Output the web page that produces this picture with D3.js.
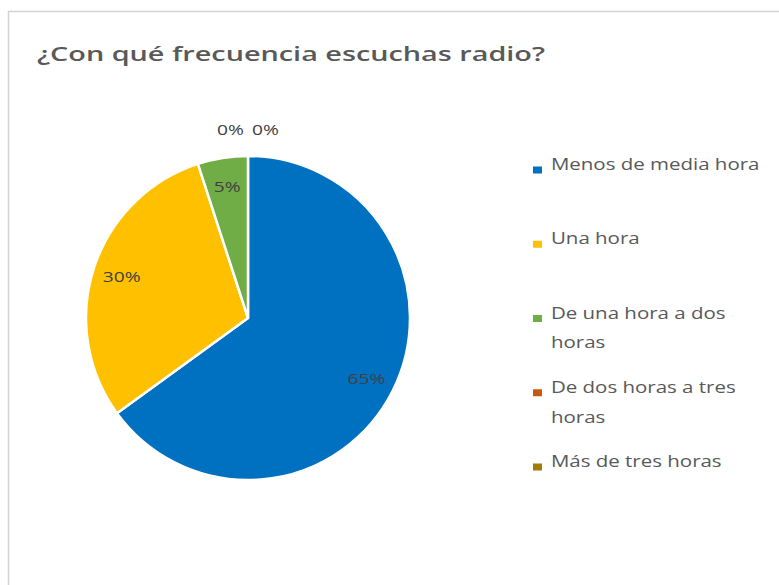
<!DOCTYPE html>
<html>
<head>
<meta charset="utf-8">
<script src="https://cdn.jsdelivr.net/npm/d3@7"></script>
<style>
  body { margin: 0; background: #ffffff; }
  svg { display: block; font-family: 'Open Sans', sans-serif; }
</style>
</head>
<body>
<div id="chart"></div>
<script>
var categories = ['Menos de media hora', 'Una hora', 'De una hora a dos horas',
  'De dos horas a tres horas', 'Más de tres horas'];
var values = [65, 30, 5, 0, 0];
var colors = ['#0070c0', '#ffc000', '#70ad47', '#c55a11', '#a07c00'];
var title = '¿Con qué frecuencia escuchas radio?';

var width = 779,
    height = 585,
    cx = 248,
    cy = 318,
    radius = 162,
    stretch = 1.28;

var data = categories.map(function(c, i) {
  return {name: c, value: values[i]};
});

var color = d3.scaleOrdinal()
  .domain(categories)
  .range(colors);

var svg = d3.select('#chart').append('svg')
  .attr('width', width)
  .attr('height', height);

// chart area frame (cut off at right and bottom)
svg.append('rect')
  .attr('x', 8.5)
  .attr('y', 11.5)
  .attr('width', width + 20)
  .attr('height', height + 20)
  .style('fill', '#ffffff')
  .style('stroke', '#d4d4d4')
  .style('stroke-width', 1.5);

svg.append('text')
  .attr('x', 37)
  .attr('y', 61)
  .attr('textLength', 508)
  .attr('lengthAdjust', 'spacingAndGlyphs')
  .style('font-size', '20px')
  .style('font-weight', 600)
  .style('fill', '#595959')
  .text(title);

var pie = d3.pie()
  .sort(null)
  .value(function(d) { return d.value; });

var arc = d3.arc()
  .innerRadius(0)
  .outerRadius(radius);

var labelArc = d3.arc()
  .innerRadius(radius * 0.82)
  .outerRadius(radius * 0.82);

var outerArc = d3.arc()
  .innerRadius(radius + 26)
  .outerRadius(radius + 26);

var arcs = pie(data);

var g = svg.append('g')
  .attr('transform', 'translate(' + cx + ',' + cy + ')');

g.selectAll('path')
  .data(arcs.filter(function(d) { return d.value > 0; }))
  .enter()
  .append('path')
  .attr('d', arc)
  .style('fill', function(d) { return color(d.data.name); })
  .style('stroke', '#ffffff')
  .style('stroke-width', 2.5)
  .style('stroke-linejoin', 'round');

// zero slices sit outside the pie, side by side
var zeros = arcs.filter(function(d) { return d.value === 0; });

g.selectAll('.label')
  .data(arcs)
  .enter()
  .append('text')
  .attr('class', 'label')
  .attr('transform', function(d) {
    var p;
    if (d.value > 0) {
      p = labelArc.centroid(d);
    } else {
      var k = zeros.indexOf(d);
      p = outerArc.centroid(d);
      p[0] += (k - (zeros.length - 1) / 2) * 35;
    }
    return 'translate(' + p[0] + ',' + p[1] + ') scale(' + stretch + ',1)';
  })
  .attr('dy', '0.35em')
  .style('text-anchor', 'middle')
  .style('font-size', '15px')
  .style('fill', '#404040')
  .text(function(d) { return d.value + '%'; });

// legend
var legendY = d3.scalePoint()
  .domain(categories)
  .range([170, 467]);

var legend = svg.append('g')
  .attr('transform', 'translate(533,0) scale(' + stretch + ',1)');

var item = legend.selectAll('.item')
  .data(categories)
  .enter()
  .append('g')
  .attr('class', 'item')
  .attr('transform', function(d) { return 'translate(0,' + legendY(d) + ')'; });

item.append('rect')
  .attr('x', 0)
  .attr('y', -3.5)
  .attr('width', 7)
  .attr('height', 7)
  .style('fill', function(d) { return color(d); });

item.append('text')
  .attr('x', 14)
  .attr('dy', '0.35em')
  .style('font-size', '16px')
  .style('fill', '#595959')
  .each(function(d) {
    var text = d3.select(this),
        words = d.split(' '),
        line = [],
        maxWidth = 175,
        tspan = text.append('tspan').attr('x', 14).attr('dy', 0);
    words.forEach(function(w) {
      line.push(w);
      tspan.text(line.join(' '));
      if (tspan.node().getComputedTextLength() > maxWidth && line.length > 1) {
        line.pop();
        tspan.text(line.join(' '));
        line = [w];
        tspan = text.append('tspan').attr('x', 14).attr('dy', 30).text(w);
      }
    });
  });
</script>
</body>
</html>
